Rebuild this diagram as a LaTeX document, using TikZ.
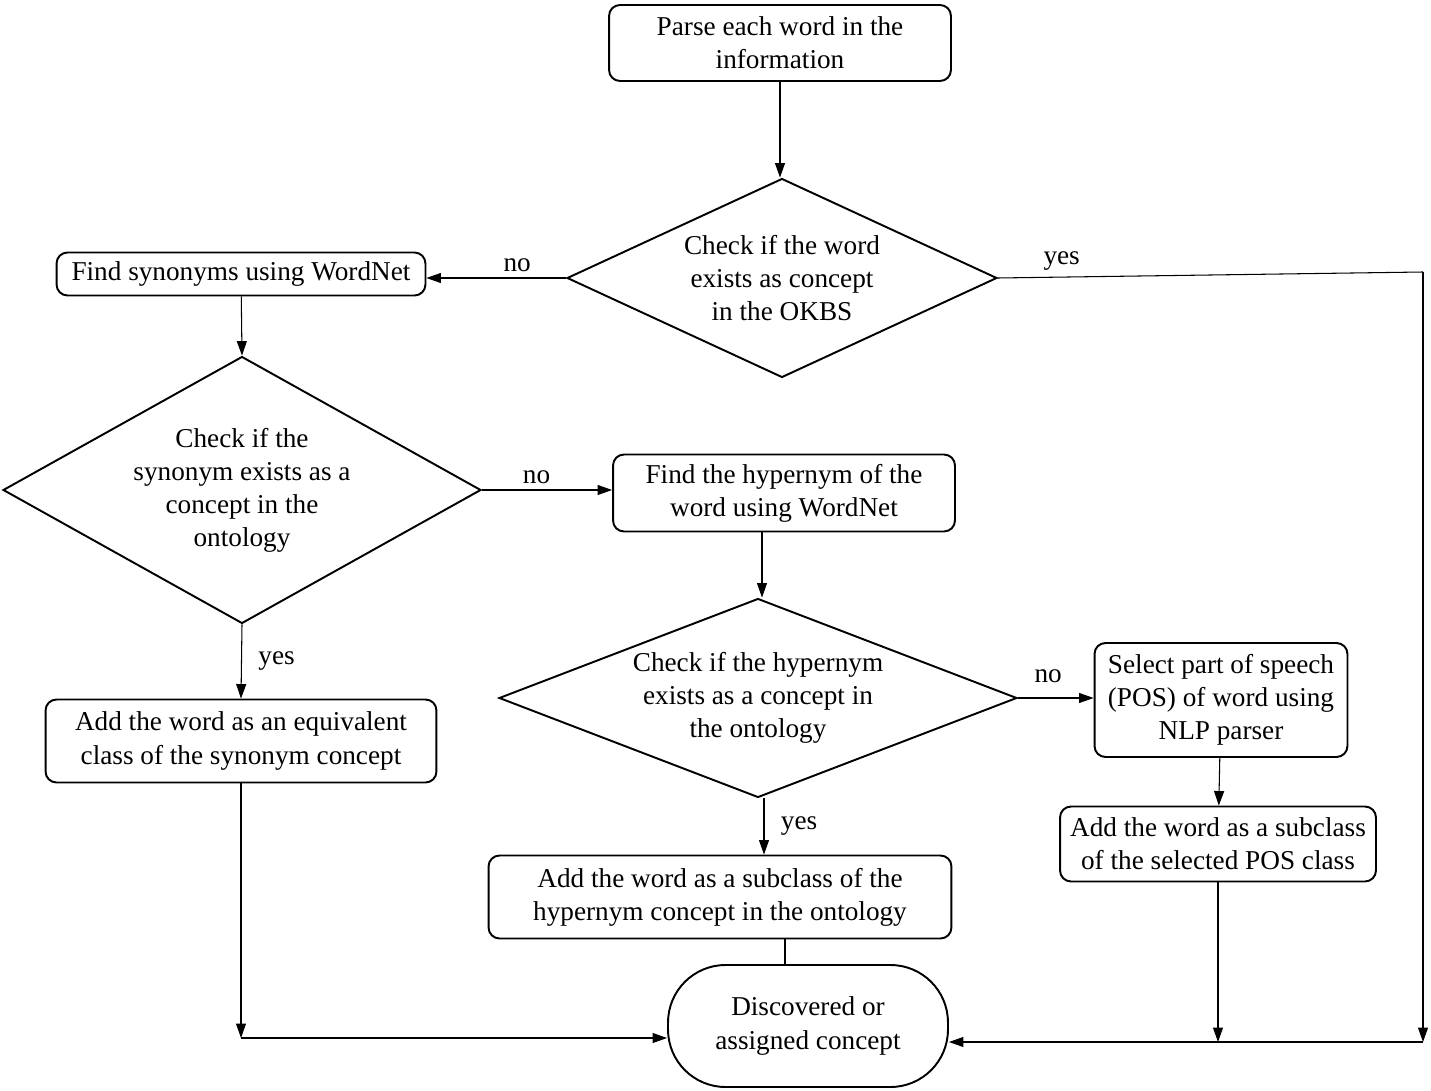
\documentclass[tikz,border=0pt]{standalone}
\usepackage{fontspec}
\setmainfont{Liberation Serif}
\usetikzlibrary{shapes.geometric,arrows.meta}

\begin{document}
\begin{tikzpicture}[x=0.02cm,y=-0.02cm,
    font=\fontsize{15.5}{18.8}\selectfont,
    procbox/.style={draw,line width=1.1pt,rounded corners=0.22cm,align=center,inner sep=2pt},
    decision/.style={draw,diamond,line width=1.1pt,align=center,inner sep=0pt},
    endbox/.style={draw,line width=1.1pt,rounded corners=1.15cm,align=center},
    flow/.style={line width=0.6pt,-{Triangle[length=0.29cm,width=0.2cm]}},
    plain/.style={line width=0.6pt}]

    \useasboundingbox (0,0) rectangle (1431,1091);

    % Top of the chart
    \node[procbox,minimum width=6.84cm,minimum height=1.52cm] (parse) at (780,43) {Parse each word in the\\information};
    \node[decision,aspect=2.16,minimum width=8.6cm,minimum height=3.98cm] (okbs) at (782,278) {Check if the word\\exists as concept\\in the OKBS};

    % Synonym branch
    \node[procbox,minimum width=7.38cm,minimum height=0.86cm] (syn) at (241,274) {Find synonyms using WordNet};
    \node[decision,aspect=1.79,minimum width=9.56cm,minimum height=5.34cm] (synchk) at (242,490) {Check if the\\synonym exists as a\\concept in the\\ontology};
    \node[procbox,minimum width=7.82cm,minimum height=1.66cm] (equiv) at (241,741) {Add the word as an equivalent\\class of the synonym concept};

    % Hypernym branch
    \node[procbox,minimum width=6.84cm,minimum height=1.54cm] (hyp) at (784,493) {Find the hypernym of the\\word using WordNet};
    \node[decision,aspect=2.6,minimum width=10.36cm,minimum height=3.98cm] (hypchk) at (758,698) {Check if the hypernym\\exists as a concept in\\the ontology};
    \node[procbox,minimum width=9.26cm,minimum height=1.66cm] (subhyp) at (720,897) {Add the word as a subclass of the\\hypernym concept in the ontology};

    % POS branch
    \node[procbox,minimum width=5.06cm,minimum height=2.28cm] (pos) at (1221,700) {Select part of speech\\(POS) of word using\\NLP parser};
    \node[procbox,minimum width=6.32cm,minimum height=1.5cm] (subpos) at (1218,844) {Add the word as a subclass\\of the selected POS class};

    % End
    \node[endbox,minimum width=5.6cm,minimum height=2.44cm] (concept) at (808,1026) {Discovered or\\assigned concept};

    \coordinate (rtop) at (1423,272);
    \coordinate (rbot) at (1423,1042);
    \coordinate (lbot) at (241,1038);

    % Connectors
    \draw[flow] (parse) -- (parse |- okbs.north);
    \draw[flow] (okbs.west) -- node[pos=0.35,above] {no} (syn.east |- okbs.west);
    \draw[plain] (okbs.east) -- node[pos=0.15,above] {yes} (rtop);
    \draw[flow] (rtop) -- (rbot);
    \draw[flow] (rbot) -- (concept.east |- rbot);
    \draw[flow] (syn) -- (synchk.north);
    \draw[flow] (synchk.east) -- node[above,pos=0.42] {no} (hyp.west |- synchk.east);
    \draw[flow] (synchk.south) -- node[right=6pt] {yes} (equiv.north);
    \draw[flow] ([xshift=0.08cm]hypchk.north |- hyp.south) -- ([xshift=0.08cm]hypchk.north);
    \draw[flow] (hypchk.east) -- node[above=5pt,pos=0.4] {no} (pos.west |- hypchk.east);
    \draw[flow] ([xshift=0.12cm]hypchk.south) -- node[right=6pt] {yes} ([xshift=0.12cm]hypchk.south |- subhyp.north);
    \draw[flow] (pos) -- (subpos);
    \draw[plain] ([xshift=-0.46cm]concept.north) -- ([xshift=-0.46cm]concept.north |- subhyp.south);
    \draw[flow] (equiv) -- (lbot);
    \draw[flow] (lbot) -- (concept.west |- lbot);
    \draw[flow] (subpos) -- (subpos |- rbot);

\end{tikzpicture}
\end{document}
